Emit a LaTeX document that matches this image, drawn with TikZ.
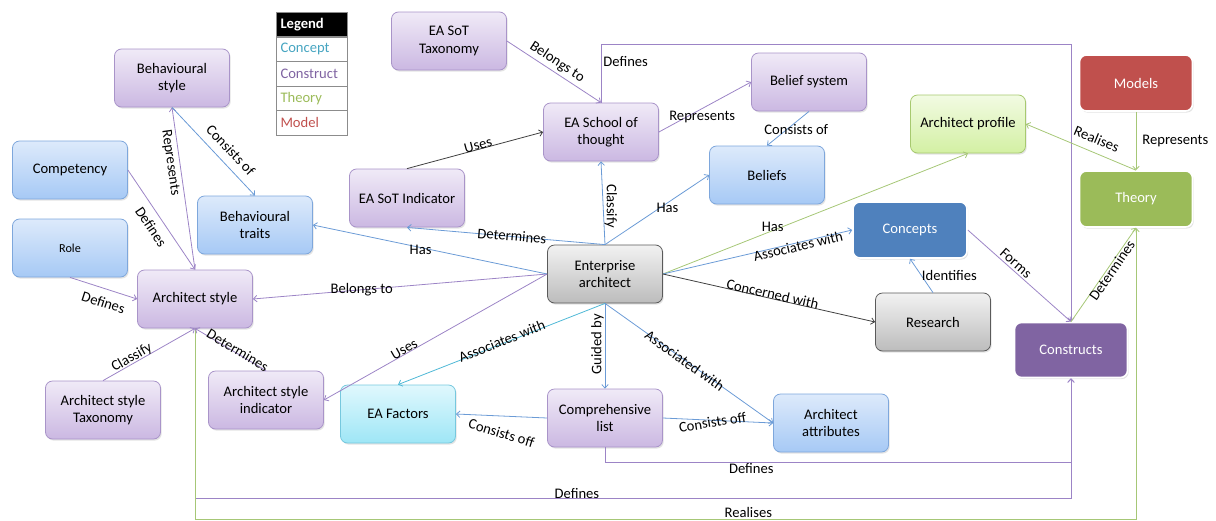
\documentclass[tikz,border=0pt]{standalone}
\usepackage{fontspec}
\setmainfont{Carlito}
\usetikzlibrary{arrows.meta,shadows}

% line colours
\definecolor{lnPurple}{HTML}{9C84C6}
\definecolor{lnBlue}{HTML}{6B9BD6}
\definecolor{lnGreen}{HTML}{A6C776}
\definecolor{lnCyan}{HTML}{4FB8D6}
\definecolor{lnDark}{HTML}{404040}
% box colours
\definecolor{purTop}{HTML}{F0EAF7}
\definecolor{purBot}{HTML}{CBB8E2}
\definecolor{purLine}{HTML}{A994C9}
\definecolor{bluTop}{HTML}{DDEAFB}
\definecolor{bluBot}{HTML}{A6C9F5}
\definecolor{bluLine}{HTML}{7EA7DC}
\definecolor{gryTop}{HTML}{F2F2F2}
\definecolor{gryBot}{HTML}{BCBCBC}
\definecolor{gryLine}{HTML}{5A5A5A}
\definecolor{cyaTop}{HTML}{E0F8FD}
\definecolor{cyaBot}{HTML}{9EE6F6}
\definecolor{cyaLine}{HTML}{76C8DE}
\definecolor{grnTop}{HTML}{F2FBE3}
\definecolor{grnBot}{HTML}{D3F0A3}
\definecolor{grnLine}{HTML}{A7C96F}
\definecolor{solPurple}{HTML}{8064A2}
\definecolor{solBlue}{HTML}{4F81BD}
\definecolor{solGreen}{HTML}{9BBB59}
\definecolor{solRed}{HTML}{C0504D}

\tikzset{
  basebox/.style={rounded corners=7pt, minimum width=115pt, minimum height=58pt,
    align=center, inner sep=2pt, line width=0.8pt,
    font=\fontsize{14.6}{17.6}\selectfont,
    drop shadow={shadow xshift=1.2pt, shadow yshift=-1.6pt, opacity=0.22}},
  boxConstruct/.style={basebox, draw=purLine, top color=purTop, bottom color=purBot},
  boxConcept/.style={basebox, draw=bluLine, top color=bluTop, bottom color=bluBot},
  boxActor/.style={basebox, draw=gryLine, top color=gryTop, bottom color=gryBot},
  boxFactor/.style={basebox, draw=cyaLine, top color=cyaTop, bottom color=cyaBot},
  boxProfile/.style={basebox, draw=grnLine, top color=grnTop, bottom color=grnBot},
  boxSolid/.style={basebox, draw=white, line width=1.6pt, text=white, fill=#1},
  lbl/.style={font=\fontsize{14.6}{16}\selectfont, inner sep=1pt, text=black},
  con/.style={line width=0.8pt, -{Straight Barb[length=3.5pt,width=6.5pt]}},
  legcell/.style={draw=black!45, line width=0.6pt, minimum width=71pt, minimum height=24.6pt,
    text width=62pt, align=left, inner sep=0pt, font=\fontsize{14.6}{16}\selectfont},
}

\begin{document}
\begin{tikzpicture}[x=1pt, y=-1pt]
\useasboundingbox (0,0) rectangle (1216,520);

% legend table
\node[legcell, fill=black, text=white, font=\fontsize{14.6}{16}\selectfont\bfseries] (legTitle) at (311.5,24.5) {Legend};
\node[legcell, text=lnCyan!90!black] (legConcept) at (311.5,49) {Concept};
\node[legcell, text=solPurple] (legConstruct) at (311.5,73.6) {Construct};
\node[legcell, text=solGreen] (legTheory) at (311.5,98.2) {Theory};
\node[legcell, text=solRed] (legModel) at (311.5,122.8) {Model};

% boxes
\node[boxConstruct] (bstyle) at (172,78) {Behavioural\\style};
\node[boxConcept] (comp) at (70,170) {Competency};
\node[boxConcept, font=\fontsize{12.2}{14}\selectfont] (role) at (70,248) {Role};
\node[boxConcept] (btraits) at (255,225) {Behavioural\\traits};
\node[boxConstruct] (archstyle) at (195,299) {Architect style};
\node[boxConstruct] (astax) at (103,410) {Architect style\\Taxonomy};
\node[boxConstruct] (asind) at (266,400) {Architect style\\indicator};
\node[boxFactor] (factors) at (398,414) {EA Factors};
\node[boxConstruct] (list) at (605,418) {Comprehensive\\list};
\node[boxActor] (ea) at (605,274) {Enterprise\\architect};
\node[boxConcept] (attrs) at (831,423) {Architect\\attributes};
\node[boxActor] (research) at (933,322) {Research};
\node[boxSolid=solPurple, minimum width=113pt, minimum height=55pt] (constructs) at (1071,350) {Constructs};
\node[boxSolid=solBlue, minimum width=114pt, minimum height=56pt] (concepts) at (910,230) {Concepts};
\node[boxSolid=solGreen, minimum width=113pt, minimum height=56pt] (theory) at (1136,199) {Theory};
\node[boxSolid=solRed, minimum width=113pt, minimum height=56pt] (models) at (1136,83) {Models};
\node[boxProfile] (aprofile) at (968,124) {Architect profile};
\node[boxConstruct] (bsys) at (809,82) {Belief system};
\node[boxConcept] (beliefs) at (767,175) {Beliefs};
\node[boxConstruct] (school) at (601,132) {EA School of\\thought};
\node[boxConstruct] (sottax) at (449,41) {EA SoT\\Taxonomy};
\node[boxConstruct] (sotind) at (407,198) {EA SoT Indicator};

% long routed connectors along the bottom
\draw[con, lnPurple] (archstyle.south) -- ++(0,170) -| node[lbl, pos=0.218, above=-2pt] {Defines} (constructs.south);
\draw[con, lnGreen] (archstyle.south) -- ++(0,191) -| node[lbl, pos=0.294, above=0pt] {Realises} (theory.south);
\draw[con, lnPurple] (list.south) -- ++(0,15) -| node[lbl, pos=0.157, below=0pt] {Defines} (constructs.south);
\draw[con, lnPurple] (school.north) -- ++(0,-58) node[lbl, pos=0.7, right=1pt] {Defines} -| (constructs.north);

% left cluster
\draw[con, lnPurple] (archstyle.north) -- node[lbl, pos=0.667, sloped, below=2pt] {Represents} (bstyle.south);
\draw[con, lnBlue] (bstyle.south) -- node[lbl, pos=0.59, sloped, above=7pt] {Consists of} (btraits.north);
\draw[con, lnPurple] (comp.east) -- node[lbl, pos=0.5, sloped, below=6pt] {Defines} (archstyle.north);
\draw[con, lnPurple] (role.south) -- node[lbl, pos=0.56, sloped, below=7pt] {Defines} (archstyle.west);
\draw[con, lnPurple] (astax.north) -- node[lbl, pos=0.345, sloped, above=-2pt] {Classify} (archstyle.south);
\draw[con, lnPurple] (asind.north) -- node[lbl, pos=0.42, sloped, above=-3.5pt] {Determines} (archstyle.south);

% from the enterprise architect
\draw[con, lnPurple] (ea.west) -- node[lbl, pos=0.63] {Belongs to} (archstyle.east);
\draw[con, lnBlue] (ea.west) -- node[lbl, pos=0.54, yshift=-2pt] {Has} (btraits.east);
\draw[con, lnPurple] (ea.west) -- node[lbl, pos=0.63, sloped, above=-1.5pt] {Uses} (asind.east);
\draw[con, lnBlue] (ea.north) -- node[lbl, pos=0.47, sloped, above=-6pt] {Determines} (sotind.south);
\draw[con, lnBlue] (ea.north) -- node[lbl, pos=0.46, rotate=-90, anchor=south] {Classify} (school.south);
\draw[con, lnBlue] (ea.north) -- node[lbl, pos=0.6, yshift=-5pt] {Has} (beliefs.west);
\draw[con, lnGreen] (ea.east) -- node[lbl, pos=0.36, yshift=4pt] {Has} (aprofile.south);
\draw[con, lnBlue] (ea.east) -- node[lbl, pos=0.71, sloped, below=-3pt] {Associates with} (concepts.west);
\draw[con, lnDark] (ea.east) -- node[lbl, pos=0.513, sloped, above=-2pt] {Concerned with} (research.west);
\draw[con, lnCyan] (ea.south) -- node[lbl, pos=0.494, sloped, above=-4pt] {Associates with} (factors.north);
\draw[con, lnBlue] (ea.south) -- node[lbl, pos=0.48, rotate=90, anchor=south] {Guided by} (list.north);
\draw[con, lnBlue] (ea.south) -- node[lbl, pos=0.477, sloped, below=-6pt] {Associated with} (attrs.west);

% comprehensive list
\draw[con, lnBlue] (list.west) -- node[lbl, pos=0.5, yshift=-17pt, rotate=-17] {Consists off} (factors.east);
\draw[con, lnBlue] (list.east) -- node[lbl, pos=0.45, yshift=-2pt, rotate=9] {Consists off} (attrs.west);

% school of thought cluster
\draw[con, lnDark] (sotind.north) -- node[lbl, pos=0.53, sloped, above=-2pt] {Uses} (school.west);
\draw[con, lnPurple] (sottax.east) -- node[lbl, pos=0.478, sloped, above=2pt] {Belongs to} (school.north);
\draw[con, lnPurple] (school.east) -- node[lbl, pos=0.47, yshift=-8pt] {Represents} (bsys.west);
\draw[con, lnBlue] (bsys.south) -- node[lbl, pos=0.54, xshift=10pt] {Consists of} (beliefs.north);

% right cluster
\draw[con, lnBlue] (research.north) -- node[lbl, pos=0.5, right=-1pt] {Identifies} (concepts.south);
\draw[con, lnPurple] (concepts.east) -- node[lbl, pos=0.42, sloped, above=1pt] {Forms} (constructs.north);
\draw[con, lnGreen] (constructs.north) -- node[lbl, pos=0.574, sloped, below=-2pt] {Determines} (theory.south);
\draw[con, lnGreen] (models.south) -- node[lbl, midway, right=5pt] {Represents} (theory.north);
\draw[con, lnGreen] (theory.north) -- node[lbl, pos=0.405, sloped, above=7pt] {Realises} (aprofile.east);
\end{tikzpicture}
\end{document}
